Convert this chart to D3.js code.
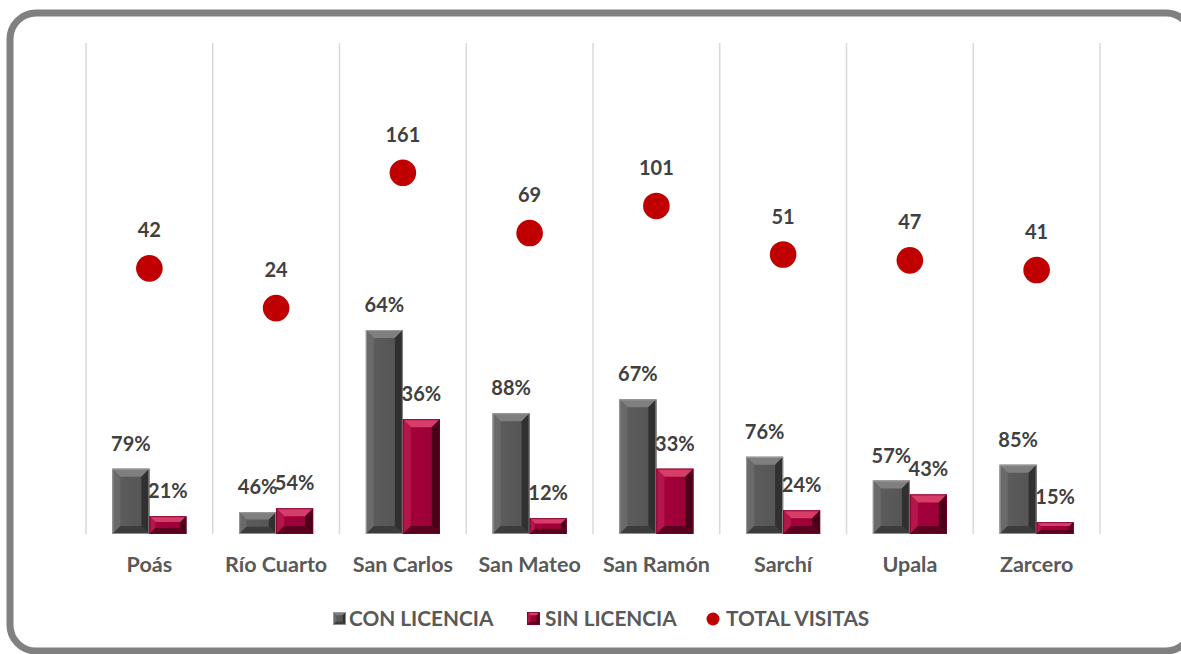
<!DOCTYPE html>
<html><head><meta charset="utf-8">
<script src="https://cdn.jsdelivr.net/npm/d3@7"></script>
<style>
html,body{margin:0;padding:0;background:#fff;}
svg text{font-family:Lato,"Noto Sans",sans-serif;font-weight:bold;}
</style></head>
<body>
<div id="chart"></div>
<script>
const categories = ["Poás","Río Cuarto","San Carlos","San Mateo","San Ramón","Sarchí","Upala","Zarcero"];
const conLicencia = [33,11,103,61,68,39,27,35];
const sinLicencia = [9,13,58,8,33,12,20,6];
const totalVisitas = [42,24,161,69,101,51,47,41];
const conPct = ["79%","46%","64%","88%","67%","76%","57%","85%"];
const sinPct = ["21%","54%","36%","12%","33%","24%","43%","15%"];
const seriesNames = ["CON LICENCIA","SIN LICENCIA","TOTAL VISITAS"];

const W = 1181, H = 654;
const svg = d3.select("#chart").append("svg").attr("width",W).attr("height",H);

// frame
svg.append("rect").attr("x",10).attr("y",13).attr("width",1182).attr("height",638)
  .attr("rx",26).attr("ry",26).attr("fill","#fff").attr("stroke","#808080").attr("stroke-width",7);

const plotTop = 43, plotBottom = 534;
const x = d3.scaleBand().domain(categories).range([86,1100]).padding(0);
const y = d3.scaleLinear().domain([0,248]).range([plotBottom,plotTop]);
const yLog = d3.scaleLog().domain([1,1000]).range([plotBottom,plotTop]);

// gridlines
const bounds = categories.map(c=>x(c)).concat([x.range()[1]]);
svg.append("g").selectAll("line").data(bounds).join("line")
  .attr("x1",d=>d).attr("x2",d=>d).attr("y1",plotTop).attr("y2",plotBottom)
  .attr("stroke","#d9d9d9").attr("stroke-width",1.5);

const barW = 37;
const defs = svg.append("defs");
function grad(id, stops, vertical){
  const g = defs.append("linearGradient").attr("id",id)
    .attr("x1",0).attr("y1",0).attr("x2",vertical?0:1).attr("y2",vertical?1:0);
  stops.forEach(s=>g.append("stop").attr("offset",s[0]).attr("stop-color",s[1]));
}
const styles = {
  con:{body:"#595959", top:"#7f7f7f", left:"#6a6a6a", right:"#303030", bottom:"#3c3c3c", edge:"#a6a6a6"},
  sin:{body:"#a0003a", top:"#d63d68", left:"#b3164a", right:"#4a0018", bottom:"#5c0022", edge:"#7a002c"}
};
grad("gcon",[[0,"#5e5e5e"],[0.85,"#555"],[1,"#3a3a3a"]],false);
grad("gsin",[[0,"#a8003d"],[0.8,"#9a0036"],[1,"#5a0020"]],false);

function bevelBar(g, x0, y0, w, h, st, fillId){
  if(h<=0) return;
  const b = Math.min(8, w/4, h/3);
  g.append("rect").attr("x",x0).attr("y",y0).attr("width",w).attr("height",h).attr("fill",`url(#${fillId})`);
  const poly = (pts,fill)=>g.append("polygon").attr("points",pts.map(p=>p.join(",")).join(" ")).attr("fill",fill);
  poly([[x0,y0],[x0+w,y0],[x0+w-b,y0+b],[x0+b,y0+b]], st.top);
  poly([[x0,y0],[x0+b,y0+b],[x0+b,y0+h-b],[x0,y0+h]], st.left);
  poly([[x0+w,y0],[x0+w,y0+h],[x0+w-b,y0+h-b],[x0+w-b,y0+b]], st.right);
  poly([[x0,y0+h],[x0+b,y0+h-b],[x0+w-b,y0+h-b],[x0+w,y0+h]], st.bottom);
  g.append("rect").attr("x",x0+0.5).attr("y",y0+0.5).attr("width",w-1).attr("height",h-1)
    .attr("fill","none").attr("stroke",st.edge).attr("stroke-width",1).attr("opacity",0.8);
}

const gb = svg.append("g");
categories.forEach((c,i)=>{
  const cx = x(c)+x.bandwidth()/2;
  bevelBar(gb, cx-barW, y(conLicencia[i]), barW, plotBottom-y(conLicencia[i]), styles.con, "gcon");
  bevelBar(gb, cx, y(sinLicencia[i]), barW, plotBottom-y(sinLicencia[i]), styles.sin, "gsin");
});

// bar labels
const gl = svg.append("g").attr("fill","#404040").attr("font-size",20).attr("text-anchor","middle");
categories.forEach((c,i)=>{
  const cx = x(c)+x.bandwidth()/2;
  gl.append("text").attr("x",cx-barW/2).attr("y",y(conLicencia[i])-25).attr("dy","0.35em").text(conPct[i]);
  gl.append("text").attr("x",cx+barW/2).attr("y",y(sinLicencia[i])-25).attr("dy","0.35em").text(sinPct[i]);
});

// dots
const gd = svg.append("g");
gd.selectAll("circle").data(totalVisitas).join("circle")
  .attr("cx",(d,i)=>x(categories[i])+x.bandwidth()/2).attr("cy",d=>yLog(d)).attr("r",13.3).attr("fill","#c00000");
gd.selectAll("text").data(totalVisitas).join("text")
  .attr("x",(d,i)=>x(categories[i])+x.bandwidth()/2).attr("y",d=>yLog(d)-38).attr("dy","0.35em")
  .attr("text-anchor","middle").attr("font-size",20).attr("fill","#404040").text(d=>d);

// category axis labels
svg.append("g").selectAll("text").data(categories).join("text")
  .attr("x",c=>x(c)+x.bandwidth()/2).attr("y",564).attr("dy","0.35em").attr("text-anchor","middle")
  .attr("font-size",21.5).attr("fill","#595959").text(d=>d);

// legend
const lg = svg.append("g").attr("font-size",20.8).attr("fill","#595959");
const legendX = [333, 527, 707];
bevelBar(lg, legendX[0], 612, 13, 13, styles.con, "gcon");
lg.append("text").attr("x",legendX[0]+16).attr("y",619).attr("dy","0.35em").text(seriesNames[0]);
bevelBar(lg, legendX[1], 612, 13, 13, styles.sin, "gsin");
lg.append("text").attr("x",legendX[1]+18).attr("y",619).attr("dy","0.35em").text(seriesNames[1]);
lg.append("circle").attr("cx",legendX[2]+6).attr("cy",619).attr("r",6.5).attr("fill","#c00000");
lg.append("text").attr("x",legendX[2]+19).attr("y",619).attr("dy","0.35em").text(seriesNames[2]);
</script>
</body></html>
